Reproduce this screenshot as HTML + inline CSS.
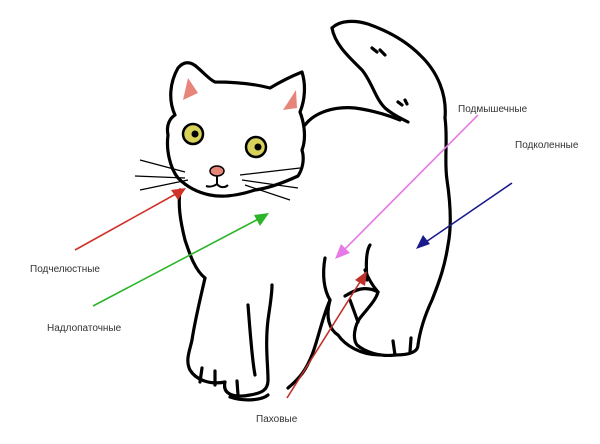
<!DOCTYPE html>
<html><head><meta charset="utf-8"><style>
html,body{margin:0;padding:0;background:#fff;}
svg{display:block;}
text{font-family:"Liberation Sans",sans-serif;font-size:10px;fill:#333;}
</style></head><body>
<svg width="600" height="444" viewBox="0 0 600 444" xmlns="http://www.w3.org/2000/svg">
<g fill="none" stroke="#000" stroke-width="3.2" stroke-linecap="round" stroke-linejoin="round">
<!-- tail -->
<path d="M332,28 C340,20 355,20 368,24 C385,30 405,40 420,55 C438,72 447,95 445,118"/>
<path d="M332,28 C335,45 350,58 362,70 C372,82 375,98 385,108 C392,114 400,118 408,122"/>
<path d="M372,48 l5,4 M380,50 l5,5 M398,102 l4,3 M405,100 l2,4"/>
<!-- head -->
<path d="M175,115 C168,100 170,82 178,68 C183,62 190,60 198,68 C205,74 210,80 215,82 C235,82 255,84 270,88 C280,82 292,76 302,72 C306,85 305,100 300,112 C305,125 306,140 302,150 C305,160 302,170 298,176 C285,182 270,188 255,190 C240,195 225,198 210,195 C195,192 185,185 178,178 C170,168 166,150 168,135 C166,125 170,118 175,115"/>
<!-- body back -->
<path d="M305,125 C315,112 335,106 355,108 C370,110 385,114 400,120"/>
<!-- right side -->
<path d="M445,118 C448,140 444,160 447,180 C450,200 452,225 448,245 C445,265 440,280 432,300 C425,315 420,330 418,345 C418,352 410,355 395,355 C380,357 365,352 357,345 C352,338 355,325 360,318 C368,308 376,300 378,292"/>
<path d="M378,292 C372,285 368,278 365,270"/>
<path d="M367,280 C365,255 368,248 370,245"/>
<!-- left front body -->
<path d="M180,190 C178,205 180,220 185,240 C190,255 195,270 205,278"/>
<path d="M205,278 C200,300 195,320 192,340 C190,350 185,360 190,370 C196,380 210,385 225,382"/>
<path d="M225,382 C222,395 235,398 250,395 C262,393 268,390 268,380 C268,365 265,345 268,320 C270,305 272,295 272,285"/>
<path d="M248,305 C250,330 252,360 255,375"/>
<path d="M325,258 C322,275 324,290 330,300 C325,318 330,330 338,335 C345,345 360,355 380,355"/>
<path d="M330,300 C322,318 318,340 312,355 C306,370 300,378 288,388"/>
<path d="M268,395 C262,400 245,402 230,397"/>
<path d="M345,296 C355,290 365,285 378,292 M350,300 l8,22 M200,382 l2,-14 M215,385 l0,-14 M238,395 l-1,-14 M395,355 l-2,-14 M410,352 l1,-14"/>
</g>
<!-- ears -->
<path d="M183,100 L188,78 L198,93 Z" fill="#e8857b"/>
<path d="M283,110 L296,90 L297,108 Z" fill="#e8857b"/>
<!-- eyes -->
<circle cx="193" cy="134" r="10" fill="#d6d25a" stroke="#000" stroke-width="2.5"/>
<circle cx="195" cy="134" r="3.5" fill="#000"/>
<circle cx="256" cy="147" r="10" fill="#d6d25a" stroke="#000" stroke-width="2.5"/>
<circle cx="258" cy="147" r="3.5" fill="#000"/>
<!-- nose/mouth -->
<ellipse cx="217" cy="171" rx="7" ry="5" fill="#e8857b" stroke="#000" stroke-width="1.5"/>
<path d="M217,176 l0,8 M206,186 C212,188 217,184 217,184 C220,188 225,188 228,185" fill="none" stroke="#000" stroke-width="2"/>
<!-- whiskers -->
<g stroke="#000" stroke-width="1.2" fill="none">
<path d="M140,160 L185,172 M135,176 L185,178 M140,190 L188,180"/>
<path d="M240,175 L300,168 M242,180 L298,188 M245,185 L290,200"/>
</g>
<!-- arrows -->
<g stroke-width="1.6" fill="none">
<line x1="75" y1="250" x2="183" y2="190" stroke="#d0322a"/>
<line x1="93" y1="306" x2="266" y2="215" stroke="#2db52a"/>
<line x1="478" y1="115" x2="338" y2="256" stroke="#e67ae6"/>
<line x1="512" y1="183" x2="420" y2="246" stroke="#1a1a8c"/>
<line x1="287" y1="398" x2="365" y2="274" stroke="#c0302a"/>
</g>
<path d="M186,188 L171,190 L178,200 Z" fill="#d0322a"/>
<path d="M269,213 L254,215 L260,226 Z" fill="#2db52a"/>
<path d="M335,259 L341,244 L350,253 Z" fill="#e67ae6"/>
<path d="M416,249 L423,235 L430,244 Z" fill="#1a1a8c"/>
<path d="M367,271 L365,286 L355,280 Z" fill="#c0302a"/>
<!-- labels -->
<text x="30" y="272">Подчелюстные</text>
<text x="47" y="331">Надлопаточные</text>
<text x="458" y="112">Подмышечные</text>
<text x="515" y="148">Подколенные</text>
<text x="256" y="422">Паховые</text>
</svg>
</body></html>
